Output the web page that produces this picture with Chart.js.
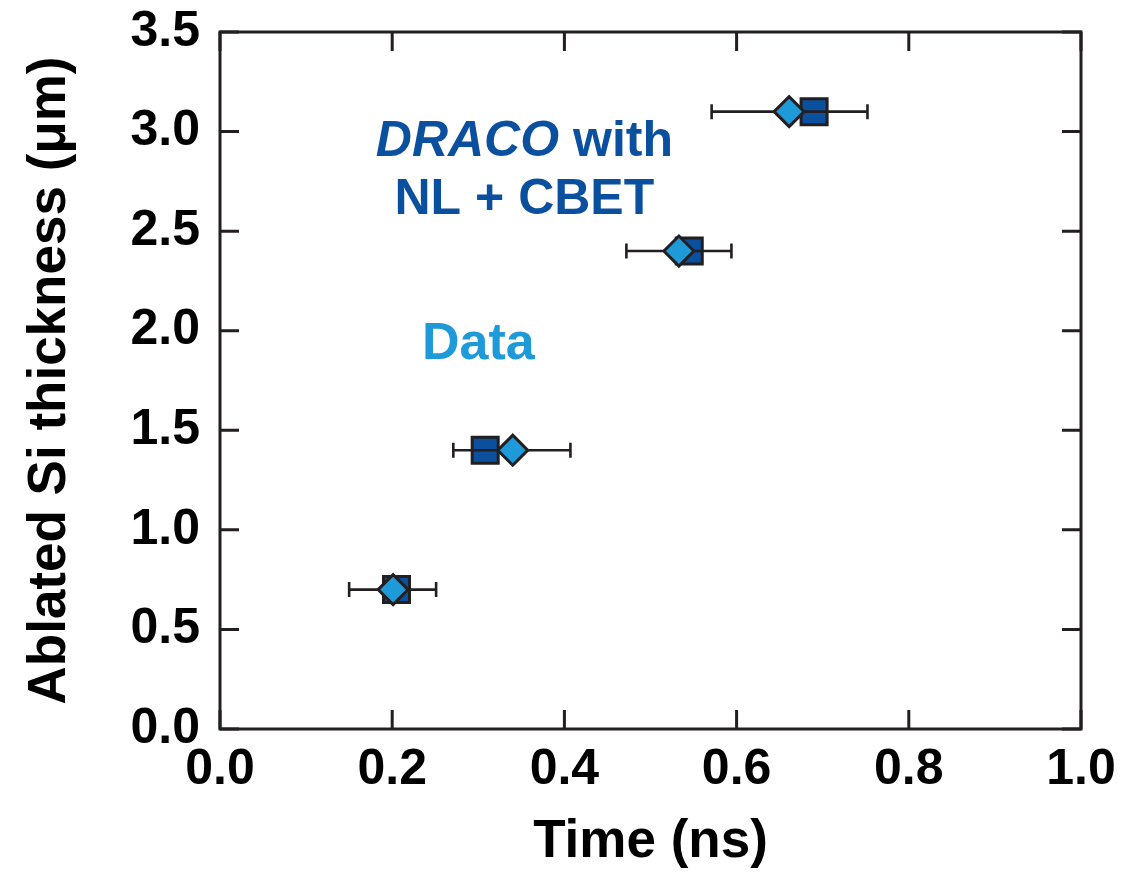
<!DOCTYPE html>
<html>
<head>
<meta charset="utf-8">
<script src="https://cdn.jsdelivr.net/npm/chart.js@4"></script>
<style>
  html, body { margin: 0; padding: 0; background: #fff; }
  #wrap { width: 1129px; height: 874px; position: relative; }
</style>
</head>
<body>
<div id="wrap"><canvas id="chart"></canvas></div>
<script>
// Ablated Si thickness vs time: measured data vs DRACO simulation

// Measured data (diamonds) with horizontal timing error bars
const dataTime = [0.201, 0.340, 0.533, 0.661];
const dataThickness = [0.70, 1.40, 2.40, 3.10];
const dataTimeLow = [0.150, 0.271, 0.472, 0.571];
const dataTimeHigh = [0.251, 0.407, 0.594, 0.752];

// DRACO with NL + CBET (squares)
const dracoTime = [0.205, 0.308, 0.545, 0.690];
const dracoThickness = [0.70, 1.40, 2.40, 3.10];

// Axis ticks
const xTickValues = [0.0, 0.2, 0.4, 0.6, 0.8, 1.0];
const yTickValues = [0.0, 0.5, 1.0, 1.5, 2.0, 2.5, 3.0, 3.5];

const FONT = "'Liberation Sans', Arial, sans-serif";
const INK = '#231f20';
const LIGHT_BLUE = '#1f9ad8';
const DARK_BLUE = '#0b509e';

// horizontal error bars, drawn right after the squares so the diamonds sit on top
const errorBarPlugin = {
  id: 'errorBars',
  afterDatasetDraw(chart, args) {
    if (args.index !== 1) return;
    const ctx = chart.ctx;
    const xs = chart.scales.x, ys = chart.scales.y;
    ctx.save();
    ctx.strokeStyle = INK;
    ctx.lineWidth = 2.6;
    for (let i = 0; i < dataTime.length; i++) {
      const y = ys.getPixelForValue(dataThickness[i]);
      const x0 = xs.getPixelForValue(dataTimeLow[i]);
      const x1 = xs.getPixelForValue(dataTimeHigh[i]);
      ctx.beginPath();
      ctx.moveTo(x0, y); ctx.lineTo(x1, y);
      ctx.moveTo(x0, y - 7.5); ctx.lineTo(x0, y + 7.5);
      ctx.moveTo(x1, y - 7.5); ctx.lineTo(x1, y + 7.5);
      ctx.stroke();
    }
    ctx.restore();
  }
};

// box frame with inward ticks on all four sides
const framePlugin = {
  id: 'frame',
  afterDraw(chart) {
    const ctx = chart.ctx;
    const a = chart.chartArea;
    const xs = chart.scales.x, ys = chart.scales.y;
    const len = 19;
    ctx.save();
    ctx.strokeStyle = INK;
    ctx.lineWidth = 3;
    ctx.strokeRect(a.left, a.top, a.right - a.left, a.bottom - a.top);
    ctx.beginPath();
    xs.ticks.forEach(t => {
      const x = xs.getPixelForValue(t.value);
      ctx.moveTo(x, a.bottom); ctx.lineTo(x, a.bottom - len);
      ctx.moveTo(x, a.top); ctx.lineTo(x, a.top + len);
    });
    ys.ticks.forEach(t => {
      const y = ys.getPixelForValue(t.value);
      ctx.moveTo(a.left, y); ctx.lineTo(a.left + len, y);
      ctx.moveTo(a.right, y); ctx.lineTo(a.right - len, y);
    });
    ctx.stroke();
    ctx.restore();
  }
};

// in-plot labels
const labelPlugin = {
  id: 'labels',
  afterDatasetsDraw(chart) {
    const ctx = chart.ctx;
    const xs = chart.scales.x, ys = chart.scales.y;
    ctx.save();
    ctx.textBaseline = 'middle';
    ctx.textAlign = 'left';

    const cx = xs.getPixelForValue(0.3535);
    // line 1: italic DRACO + " with"
    const fItal = 'italic bold 50px ' + FONT;
    const fBold = 'bold 50px ' + FONT;
    ctx.fillStyle = DARK_BLUE;
    ctx.font = fItal;
    const w1 = ctx.measureText('DRACO').width;
    ctx.font = fBold;
    const w2 = ctx.measureText(' with').width;
    let x = cx - (w1 + w2) / 2;
    const y1 = ys.getPixelForValue(2.945);
    ctx.font = fItal;
    ctx.fillText('DRACO', x, y1);
    ctx.font = fBold;
    ctx.fillText(' with', x + w1, y1);

    ctx.textAlign = 'center';
    ctx.fillText('NL + CBET', cx, ys.getPixelForValue(2.654));

    ctx.fillStyle = LIGHT_BLUE;
    ctx.font = 'bold 52px ' + FONT;
    ctx.fillText('Data', xs.getPixelForValue(0.30), ys.getPixelForValue(1.928));
    ctx.restore();
  }
};

const ctx = document.getElementById('chart').getContext('2d');
new Chart(ctx, {
  type: 'scatter',
  data: {
    datasets: [
      {
        label: 'Data',
        data: dataTime.map((t, i) => ({ x: t, y: dataThickness[i] })),
        pointStyle: 'rectRot',
        pointRadius: 15,
        pointHoverRadius: 15,
        backgroundColor: LIGHT_BLUE,
        borderColor: INK,
        borderWidth: 3
      },
      {
        label: 'DRACO with NL + CBET',
        data: dracoTime.map((t, i) => ({ x: t, y: dracoThickness[i] })),
        pointStyle: 'rect',
        pointRadius: 18.4,
        pointHoverRadius: 18.4,
        backgroundColor: DARK_BLUE,
        borderColor: INK,
        borderWidth: 3
      }
    ]
  },
  options: {
    responsive: true,
    maintainAspectRatio: false,
    animation: false,
    layout: { padding: { top: 32, right: 48, left: 0, bottom: 0 } },
    plugins: {
      legend: { display: false },
      tooltip: { enabled: false }
    },
    scales: {
      x: {
        type: 'linear',
        min: 0,
        max: 1,
        afterBuildTicks: scale => { scale.ticks = xTickValues.map(v => ({ value: v })); },
        afterFit: scale => {
          scale.height = 145;
          scale.paddingLeft = 0;
          scale.paddingRight = 0;
        },
        grid: { display: false, drawTicks: false },
        border: { display: false },
        ticks: {
          color: '#000',
          padding: 11,
          maxRotation: 0,
          font: { family: FONT, size: 50, weight: 'bold' },
          callback: v => v.toFixed(1)
        },
        title: {
          display: true,
          text: 'Time (ns)',
          color: '#000',
          padding: { top: 0, bottom: 0 },
          font: { family: FONT, size: 53, weight: 'bold', lineHeight: 1.2 }
        }
      },
      y: {
        type: 'linear',
        min: 0,
        max: 3.5,
        afterBuildTicks: scale => { scale.ticks = yTickValues.map(v => ({ value: v })); },
        afterFit: scale => {
          scale.width = 220;
          scale.paddingTop = 0;
          scale.paddingBottom = 0;
        },
        grid: { display: false, drawTicks: false },
        border: { display: false },
        ticks: {
          color: '#000',
          padding: 20,
          font: { family: FONT, size: 50, weight: 'bold' },
          callback: v => v.toFixed(1)
        },
        title: {
          display: true,
          text: 'Ablated Si thickness (μm)',
          color: '#000',
          padding: { top: 19, bottom: 0 },
          font: { family: FONT, size: 53, weight: 'bold', lineHeight: 1.2 }
        }
      }
    }
  },
  plugins: [errorBarPlugin, framePlugin, labelPlugin]
});
</script>
</body>
</html>
